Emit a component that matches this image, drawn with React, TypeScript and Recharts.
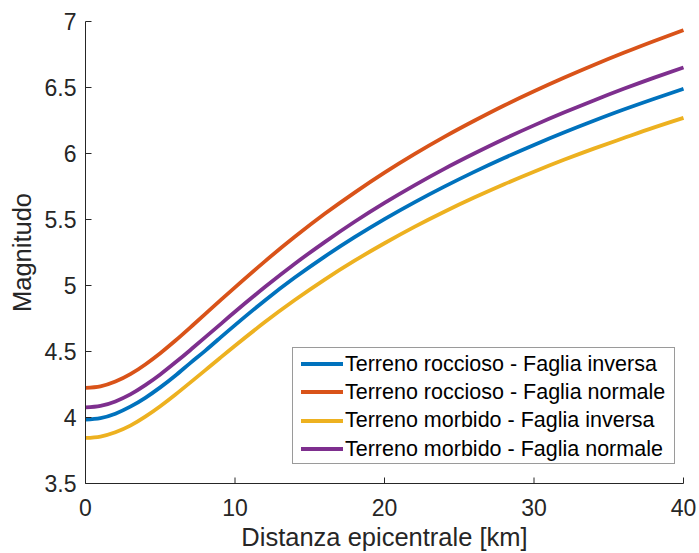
import React from 'react';
import { LineChart, Line, XAxis, YAxis } from 'recharts';

// distanza epicentrale [km]
const distanze = [0, 1, 2, 3, 4, 5, 6, 7, 8, 9, 10, 12, 14, 16, 18, 20, 22, 24, 26, 28, 30, 32, 34, 36, 38, 40];

// magnitudo per le quattro combinazioni terreno / faglia
const rocciosoInversa = [3.985, 3.996, 4.029, 4.082, 4.149, 4.228, 4.316, 4.412, 4.505, 4.603, 4.7, 4.887, 5.06, 5.219, 5.366, 5.503, 5.63, 5.749, 5.861, 5.966, 6.065, 6.159, 6.248, 6.333, 6.413, 6.49];
const rocciosoNormale = [4.224, 4.236, 4.272, 4.328, 4.402, 4.487, 4.581, 4.681, 4.783, 4.885, 4.986, 5.183, 5.369, 5.543, 5.704, 5.855, 5.995, 6.126, 6.248, 6.364, 6.472, 6.574, 6.671, 6.763, 6.851, 6.934];
const morbidoInversa = [3.845, 3.856, 3.888, 3.938, 4.006, 4.085, 4.172, 4.264, 4.357, 4.451, 4.544, 4.723, 4.89, 5.045, 5.188, 5.32, 5.444, 5.559, 5.666, 5.767, 5.862, 5.952, 6.037, 6.117, 6.196, 6.27];
const morbidoNormale = [4.076, 4.088, 4.122, 4.175, 4.245, 4.326, 4.416, 4.51, 4.607, 4.704, 4.801, 4.988, 5.165, 5.329, 5.483, 5.626, 5.759, 5.884, 6.0, 6.11, 6.213, 6.31, 6.402, 6.49, 6.573, 6.652];

const xTicks = [0, 10, 20, 30, 40];
const yTicks = [3.5, 4, 4.5, 5, 5.5, 6, 6.5, 7];

const serie = [
  { key: 'ri', name: 'Terreno roccioso - Faglia inversa', color: '#0072BD', values: rocciosoInversa },
  { key: 'rn', name: 'Terreno roccioso - Faglia normale', color: '#D95319', values: rocciosoNormale },
  { key: 'mi', name: 'Terreno morbido - Faglia inversa', color: '#EDB120', values: morbidoInversa },
  { key: 'mn', name: 'Terreno morbido - Faglia normale', color: '#7E2F8E', values: morbidoNormale },
];

const data = distanze.map((d, i) => {
  const row: Record<string, number> = { d };
  serie.forEach((s) => {
    row[s.key] = s.values[i];
  });
  return row;
});

const AXIS = '#262626';
const TICK_LEN = 6;
const FONT = '"Liberation Sans", Arial, Helvetica, sans-serif';

// tick rivolti verso l'interno, come negli assi "box on"
function BottomTick({ x, y, payload }: any) {
  return (
    <g>
      <line x1={x} x2={x} y1={y} y2={y - TICK_LEN} stroke={AXIS} />
      <text x={x} y={y + 32} textAnchor="middle" fill={AXIS} fontSize={23} fontFamily={FONT}>
        {payload.value}
      </text>
    </g>
  );
}

function TopTick({ x, y }: any) {
  return <line x1={x} x2={x} y1={y} y2={y + TICK_LEN} stroke={AXIS} />;
}

function LeftTick({ x, y, payload }: any) {
  return (
    <g>
      <line x1={x} x2={x + TICK_LEN} y1={y} y2={y} stroke={AXIS} />
      <text x={x - 9} y={y + 8} textAnchor="end" fill={AXIS} fontSize={23} fontFamily={FONT}>
        {payload.value}
      </text>
    </g>
  );
}

function RightTick({ x, y }: any) {
  return <line x1={x} x2={x - TICK_LEN} y1={y} y2={y} stroke={AXIS} />;
}

function YLabel({ viewBox }: any) {
  const cx = 31;
  const cy = viewBox.y + viewBox.height / 2;
  return (
    <text
      x={cx}
      y={cy}
      transform={`rotate(-90, ${cx}, ${cy})`}
      textAnchor="middle"
      fill={AXIS}
      fontSize={25.5}
      fontFamily={FONT}
    >
      Magnitudo
    </text>
  );
}

function XLabel({ viewBox }: any) {
  const cx = viewBox.x + viewBox.width / 2;
  return (
    <text x={cx} y={546} textAnchor="middle" fill={AXIS} fontSize={25.5} fontFamily={FONT}>
      Distanza epicentrale [km]
    </text>
  );
}

function Legenda() {
  return (
    <div
      style={{
        position: 'absolute',
        left: 292,
        top: 347,
        width: 383,
        height: 117,
        boxSizing: 'border-box',
        border: '1px solid #9a9a9a',
        background: '#fff',
        paddingTop: 2,
        fontFamily: FONT,
        fontSize: 21.5,
        color: '#000',
      }}
    >
      {serie.map((s) => (
        <div key={s.key} style={{ display: 'flex', alignItems: 'center', height: 28.3 }}>
          <div style={{ width: 42, height: 4, marginLeft: 8, marginRight: 2, background: s.color }} />
          <span style={{ whiteSpace: 'nowrap' }}>{s.name}</span>
        </div>
      ))}
    </div>
  );
}

export default function App() {
  return (
    <div style={{ position: 'relative', width: 699, height: 553, background: '#fff' }}>
      <style>{'body{margin:0;}'}</style>
      <LineChart width={699} height={553} data={data} margin={{ top: 21.5, right: 15.5, bottom: 0, left: 0 }}>
        <XAxis
          xAxisId="b"
          dataKey="d"
          type="number"
          domain={[0, 40]}
          ticks={xTicks}
          interval={0}
          height={69.5}
          tickSize={0}
          tickMargin={0}
          tickLine={false}
          tick={<BottomTick />}
          axisLine={{ stroke: AXIS }}
          label={<XLabel />}
        />
        <XAxis
          xAxisId="t"
          orientation="top"
          dataKey="d"
          type="number"
          domain={[0, 40]}
          ticks={xTicks}
          interval={0}
          height={0}
          tickSize={0}
          tickMargin={0}
          tickLine={false}
          tick={<TopTick />}
          axisLine={{ stroke: AXIS }}
        />
        <YAxis
          yAxisId="l"
          type="number"
          domain={[3.5, 7]}
          ticks={yTicks}
          interval={0}
          width={85.5}
          tickSize={0}
          tickMargin={0}
          tickLine={false}
          tick={<LeftTick />}
          axisLine={{ stroke: AXIS }}
          label={<YLabel />}
        />
        <YAxis
          yAxisId="r"
          orientation="right"
          type="number"
          domain={[3.5, 7]}
          ticks={yTicks}
          interval={0}
          width={0}
          tickSize={0}
          tickMargin={0}
          tickLine={false}
          tick={<RightTick />}
          axisLine={{ stroke: AXIS }}
        />
        {serie.map((s) => (
          <Line
            key={s.key}
            xAxisId="b"
            yAxisId="l"
            type="natural"
            dataKey={s.key}
            name={s.name}
            stroke={s.color}
            strokeWidth={3.8}
            dot={false}
            activeDot={false}
            isAnimationActive={false}
          />
        ))}
      </LineChart>
      <Legenda />
    </div>
  );
}
